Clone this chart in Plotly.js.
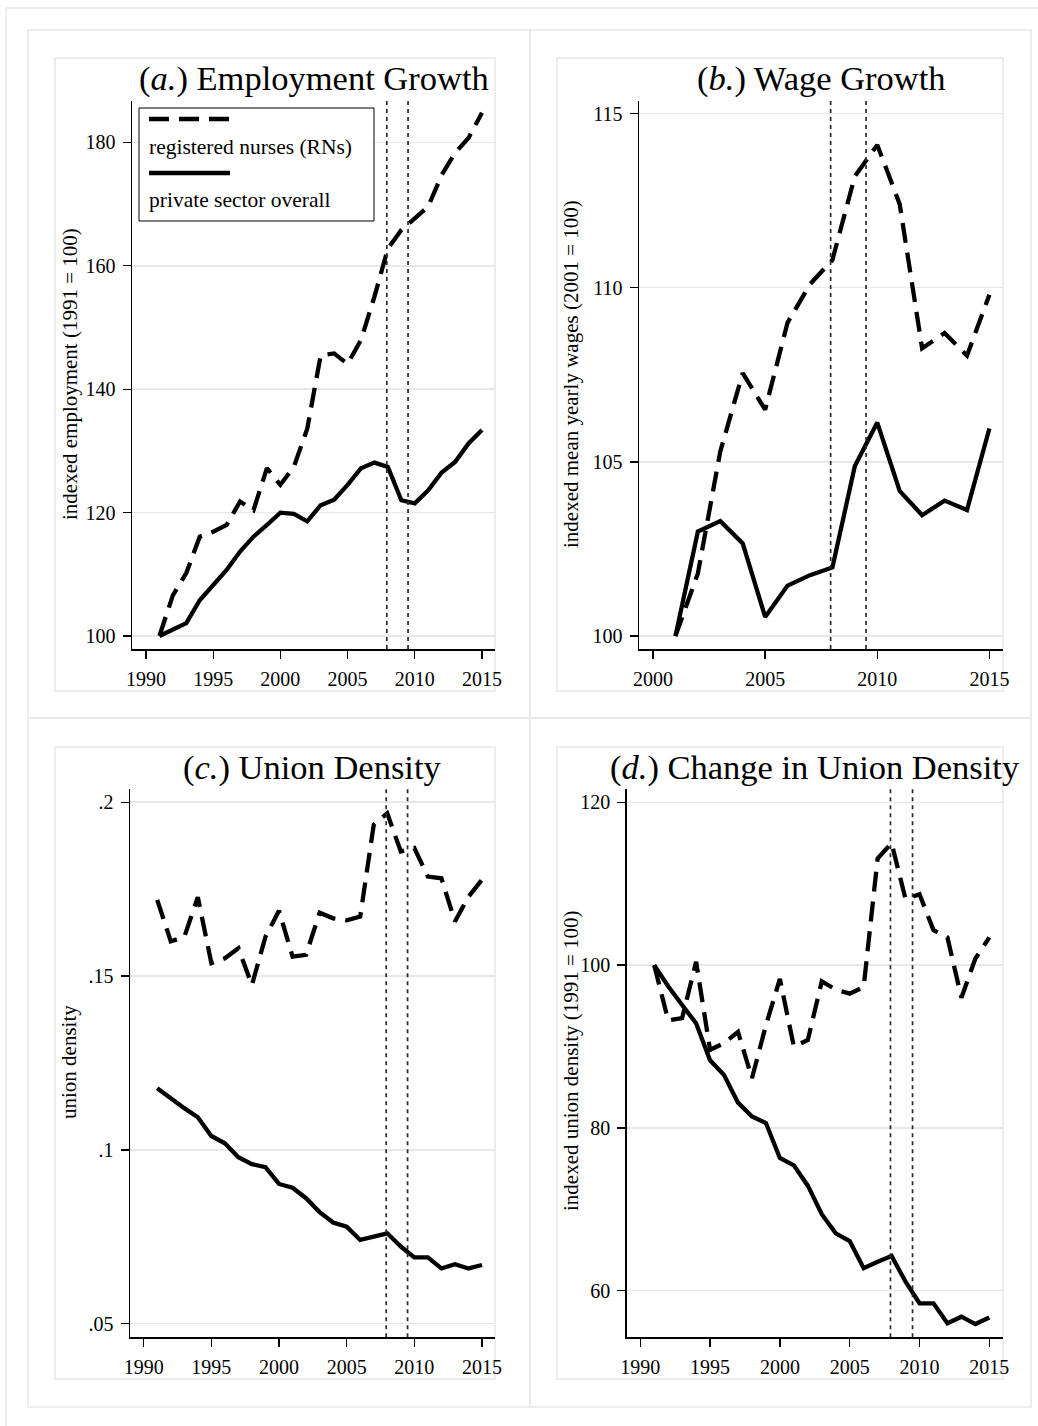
<!DOCTYPE html>
<html>
<head>
<meta charset="utf-8">
<script src="https://cdn.plot.ly/plotly-3.0.1.min.js"></script>
<style>
  html, body { margin: 0; padding: 0; background: #ffffff; }
  #chart { width: 1038px; height: 1426px; }
</style>
</head>
<body>
<div id="chart"></div>
<script>
// ---------------- DATA ----------------
const yearsLong = [1991,1992,1993,1994,1995,1996,1997,1998,1999,2000,2001,2002,2003,
                   2004,2005,2006,2007,2008,2009,2010,2011,2012,2013,2014,2015];
const yearsWage = [2001,2002,2003,2004,2005,2006,2007,2008,2009,2010,2011,2012,2013,2014,2015];

// (a.) Employment growth, indexed 1991 = 100
const empRN      = [100,106.6,110.2,116.1,116.9,118.0,121.8,120.4,127.2,124.5,127.4,133.6,145.5,
                    145.8,144.1,148.0,155.0,162.8,165.8,167.6,169.6,174.7,178.3,180.7,184.8];
const empPrivate = [100,101.0,102.1,105.8,108.3,110.7,113.7,116.1,118.0,120.0,119.8,118.6,121.2,
                    122.1,124.5,127.2,128.1,127.4,122.0,121.5,123.6,126.5,128.2,131.2,133.4];

// (b.) Wage growth, indexed 2001 = 100
const wageRN      = [100,101.8,105.3,107.55,106.5,109.0,110.1,110.8,113.2,114.1,112.4,108.26,108.7,108.05,109.8];
const wagePrivate = [100,103.0,103.3,102.66,100.55,101.45,101.75,101.97,104.88,106.13,104.17,103.47,103.89,103.62,105.96];

// (c.) Union density
const unionRN      = [.1719,.1600,.1612,.1727,.1537,.1551,.1580,.1474,.1613,.1688,.1556,.1561,.1682,
                      .1666,.1660,.1671,.1935,.1968,.1858,.1868,.1786,.1781,.1657,.1728,.1777];
const unionPrivate = [.1177,.1148,.1120,.1094,.1040,.1019,.0979,.0959,.0950,.0902,.0891,.0861,.0821,
                      .0791,.0779,.0741,.0750,.0760,.0722,.0691,.0691,.0659,.0671,.0659,.0669];

// (d.) Change in union density, indexed 1991 = 100
const unionIdxRN      = [100,93.2,93.5,100.4,89.6,90.4,91.8,86.1,92.6,98.3,90.0,90.8,98.0,
                         97.0,96.5,97.3,113.1,115.0,108.1,108.7,104.3,103.4,96.0,100.8,103.4];
const unionIdxPrivate = [100,97.4,95.1,92.85,88.3,86.5,83.1,81.4,80.6,76.3,75.4,72.9,69.4,
                         67.05,66.1,62.75,63.56,64.26,61.1,58.45,58.45,56.0,56.8,55.9,56.7];

// Recession markers (Dec 2007 and mid 2009)
const recession = [2007.92, 2009.5];

// Tick labels
const ticksYearLong = [1990,1995,2000,2005,2010,2015];
const ticksYearWage = [2000,2005,2010,2015];
const ticksEmp  = [100,120,140,160,180];
const ticksWage = [100,105,110,115];
const ticksUnion = [.05,.1,.15,.2];
const ticksUnionText = ['.05','.1','.15','.2'];
const ticksUnionIdx = [60,80,100,120];

const seriesNames = ['registered nurses (RNs)', 'private sector overall'];
const panelTitles = ['(<i>a.</i>) Employment Growth', '(<i>b.</i>) Wage Growth',
                     '(<i>c.</i>) Union Density', '(<i>d.</i>) Change in Union Density'];
const yTitles = ['indexed employment (1991 = 100)', 'indexed mean yearly wages (2001 = 100)',
                 'union density', 'indexed union density (1991 = 100)'];

// ---------------- LAYOUT HELPERS ----------------
const W = 1038, H = 1426;
const fx = p => p / W;
const fy = p => 1 - p / H;
const FONT = 'Liberation Serif, Times New Roman, serif';
const GRID = '#e8e8e8';

const dashRN = '20px,10px';
const lw = 4.3;

function tr(x, y, xa, ya, dash, name) {
  return {x: x, y: y, xaxis: xa, yaxis: ya, type: 'scatter', mode: 'lines', name: name,
          showlegend: false, hoverinfo: 'skip',
          line: {color: '#000000', width: lw, dash: dash}};
}

const data = [
  tr(yearsLong, empRN, 'x', 'y', dashRN, seriesNames[0]),
  tr(yearsLong, empPrivate, 'x', 'y', 'solid', seriesNames[1]),
  tr(yearsWage, wageRN, 'x2', 'y2', dashRN, seriesNames[0]),
  tr(yearsWage, wagePrivate, 'x2', 'y2', 'solid', seriesNames[1]),
  tr(yearsLong, unionRN, 'x3', 'y3', dashRN, seriesNames[0]),
  tr(yearsLong, unionPrivate, 'x3', 'y3', 'solid', seriesNames[1]),
  tr(yearsLong, unionIdxRN, 'x4', 'y4', dashRN, seriesNames[0]),
  tr(yearsLong, unionIdxPrivate, 'x4', 'y4', 'solid', seriesNames[1])
];

// pixel geometry of the four plot areas
const panels = [
  {l: 132,   r: 495,    t: 101,   b: 649,    xr: [1988.96, 2015.97], yr: [97.9, 186.7],
   xt: ticksYearLong, yt: ticksEmp},
  {l: 639,   r: 1003.3, t: 101,   b: 649,    xr: [1999.375, 2015.62], yr: [99.63, 115.36],
   xt: ticksYearWage, yt: ticksWage},
  {l: 130,   r: 495,    t: 789.3, b: 1337.3, xr: [1988.99, 2015.96], yr: [.0461, .2037],
   xt: ticksYearLong, yt: ticksUnion, ytt: ticksUnionText},
  {l: 626.7, r: 1003.3, t: 789.3, b: 1337.3, xr: [1989.03, 2016.0], yr: [54.27, 121.6],
   xt: ticksYearLong, yt: ticksUnionIdx}
];

const layout = {
  width: W, height: H,
  margin: {l: 0, r: 0, t: 0, b: 0, pad: 0},
  paper_bgcolor: '#ffffff', plot_bgcolor: 'rgba(0,0,0,0)',
  font: {family: FONT, color: '#000000', size: 19},
  showlegend: false,
  shapes: [], annotations: []
};

panels.forEach((p, i) => {
  const s = i === 0 ? '' : String(i + 1);
  layout['xaxis' + s] = {
    domain: [fx(p.l), fx(p.r)], range: p.xr, anchor: 'y' + s,
    tickmode: 'array', tickvals: p.xt, ticks: 'outside', ticklen: 8, tickwidth: 1.3,
    tickcolor: '#000', showline: true, linecolor: '#000', linewidth: 1.5,
    showgrid: false, zeroline: false, ticklabelstandoff: 3,
    tickfont: {family: FONT, size: 20, color: '#000'}
  };
  layout['yaxis' + s] = {
    domain: [fy(p.b), fy(p.t)], range: p.yr, anchor: 'x' + s,
    tickmode: 'array', tickvals: p.yt, ticktext: p.ytt, ticks: 'outside', ticklen: 8, tickwidth: 1.3,
    tickcolor: '#000', showline: true, linecolor: '#000', linewidth: 1.5,
    showgrid: true, gridcolor: GRID, gridwidth: 1.5, zeroline: false, ticklabelstandoff: 3,
    tickfont: {family: FONT, size: 20, color: '#000'}
  };
  // recession markers
  recession.forEach(xv => {
    layout.shapes.push({type: 'line', xref: 'x' + s, yref: 'y' + s + ' domain',
      x0: xv, x1: xv, y0: 0, y1: 1, line: {color: '#2a2a2a', width: 1.7, dash: '4px,4px'}});
  });
  // panel title
  layout.annotations.push({text: panelTitles[i], xref: 'paper', yref: 'paper',
    x: fx((p.l + p.r) / 2), y: fy(p.t - 22), xanchor: 'center', yanchor: 'middle',
    showarrow: false, font: {family: FONT, size: 34.5, color: '#000'}});
});

// y axis titles
const yTitlePos = [[70, 374], [571, 374], [69, 1062], [571, 1061]];
yTitles.forEach((t, i) => {
  layout.annotations.push({text: t, xref: 'paper', yref: 'paper',
    x: fx(yTitlePos[i][0]), y: fy(yTitlePos[i][1]), xanchor: 'center', yanchor: 'middle',
    textangle: -90, showarrow: false, font: {family: FONT, size: 21, color: '#000'}});
});

// frames: outer, panel frames, plot-region boxes
const frameBoxes = [
  [6, 8, 1045, 1440],
  [28, 30, 530, 718], [530, 30, 1031, 718], [28, 718, 530, 1407], [530, 718, 1031, 1407],
  [55, 58, 495, 691], [557, 58, 1003, 691], [55, 747, 495, 1379], [557, 747, 1003, 1379]
];
frameBoxes.forEach(b => {
  layout.shapes.push({type: 'rect', xref: 'paper', yref: 'paper', layer: 'below',
    x0: fx(b[0]), x1: fx(b[2]), y0: fy(b[3]), y1: fy(b[1]),
    line: {color: '#e9e9e9', width: 1.6}, fillcolor: 'rgba(0,0,0,0)'});
});

// legend (key above label, as in the original)
layout.shapes.push({type: 'rect', xref: 'paper', yref: 'paper',
  x0: fx(139), x1: fx(374), y0: fy(221), y1: fy(108),
  line: {color: '#000', width: 1}, fillcolor: '#ffffff'});
layout.shapes.push({type: 'line', xref: 'paper', yref: 'paper',
  x0: fx(149), x1: fx(230), y0: fy(119), y1: fy(119), line: {color: '#000', width: lw, dash: dashRN}});
layout.shapes.push({type: 'line', xref: 'paper', yref: 'paper',
  x0: fx(149), x1: fx(230), y0: fy(173), y1: fy(173), line: {color: '#000', width: lw}});
layout.annotations.push({text: seriesNames[0], xref: 'paper', yref: 'paper',
  x: fx(147), y: fy(147), xanchor: 'left', yanchor: 'middle', showarrow: false,
  font: {family: FONT, size: 21.5, color: '#000'}});
layout.annotations.push({text: seriesNames[1], xref: 'paper', yref: 'paper',
  x: fx(147), y: fy(200), xanchor: 'left', yanchor: 'middle', showarrow: false,
  font: {family: FONT, size: 21.5, color: '#000'}});

Plotly.newPlot('chart', data, layout, {staticPlot: true, displayModeBar: false});
</script>
</body>
</html>
